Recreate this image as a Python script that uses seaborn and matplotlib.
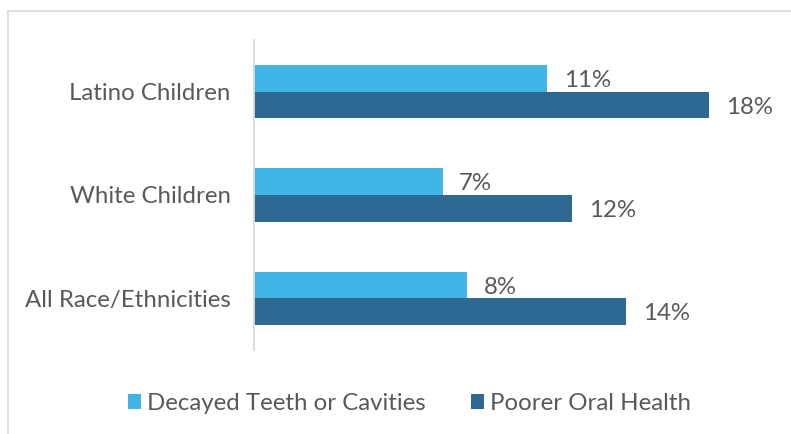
import matplotlib
matplotlib.use("Agg")
import matplotlib.pyplot as plt
from matplotlib.patches import Patch
from matplotlib.lines import Line2D
import seaborn as sns
import pandas as pd

# Share of children (%) by group
groups = ["Latino Children", "White Children", "All Race/Ethnicities"]
series_names = ["Decayed Teeth or Cavities", "Poorer Oral Health"]
decayed = [11.35, 7.3, 8.25]
poorer = [17.6, 12.3, 14.4]
colors = ["#41B6E6", "#2E6994"]
text_color = "#595959"
grid_gray = "#D9D9D9"

df = pd.DataFrame({
    "group": groups * 2,
    "series": [series_names[0]] * 3 + [series_names[1]] * 3,
    "value": decayed + poorer,
})

sns.set_theme(style="white")
plt.rcParams["font.family"] = ["Lato", "DejaVu Sans"]
FS = 17.3

W, H = 791, 434
fig = plt.figure(figsize=(W / 100, H / 100), dpi=100)
ax = fig.add_axes([253.5 / W, 1 - 350 / H, (W - 253.5) / W, 310 / H])

sns.barplot(data=df, y="group", x="value", hue="series", order=groups,
            hue_order=series_names, palette=colors, orient="h",
            width=0.517, gap=0, dodge=True, legend=False, ax=ax,
            saturation=1, edgecolor="none")

ax.set_xlim(0, (W - 253.5) / 25.9)
ax.set_ylim(2.5, -0.5)
ax.set_xlabel("")
ax.set_ylabel("")
ax.set_xticks([])
ax.tick_params(axis="y", length=0, pad=16.5, labelsize=FS, labelcolor=text_color)
for side in ["top", "right", "bottom"]:
    ax.spines[side].set_visible(False)
ax.spines["left"].set_color(grid_gray)
ax.spines["left"].set_linewidth(1.3)

for cont in ax.containers:
    anns = ax.bar_label(cont, labels=[f"{v:.0f}%" for v in cont.datavalues],
                        padding=12, fontsize=FS, color=text_color)
    for a in anns:
        a.xyann = (12, -1.5)

# Chart frame
fig.add_artist(Line2D([8 / W, 8 / W], [0, 1 - 11 / H],
                      transform=fig.transFigure, color=grid_gray, lw=1.2))
fig.add_artist(Line2D([8 / W, 1], [1 - 11 / H, 1 - 11 / H],
                      transform=fig.transFigure, color=grid_gray, lw=1.2))

handles = [Patch(facecolor=c, edgecolor="none") for c in colors]
fig.legend(handles, series_names, loc="center",
           bbox_to_anchor=(409.5 / W, 1 - 403.5 / H), ncol=2, frameon=False,
           fontsize=FS, labelcolor=text_color, handlelength=0.54,
           handleheight=0.54, handletextpad=0.25, columnspacing=1.85,
           borderpad=0, borderaxespad=0)

fig.savefig("out.png", dpi=100, facecolor="white")
